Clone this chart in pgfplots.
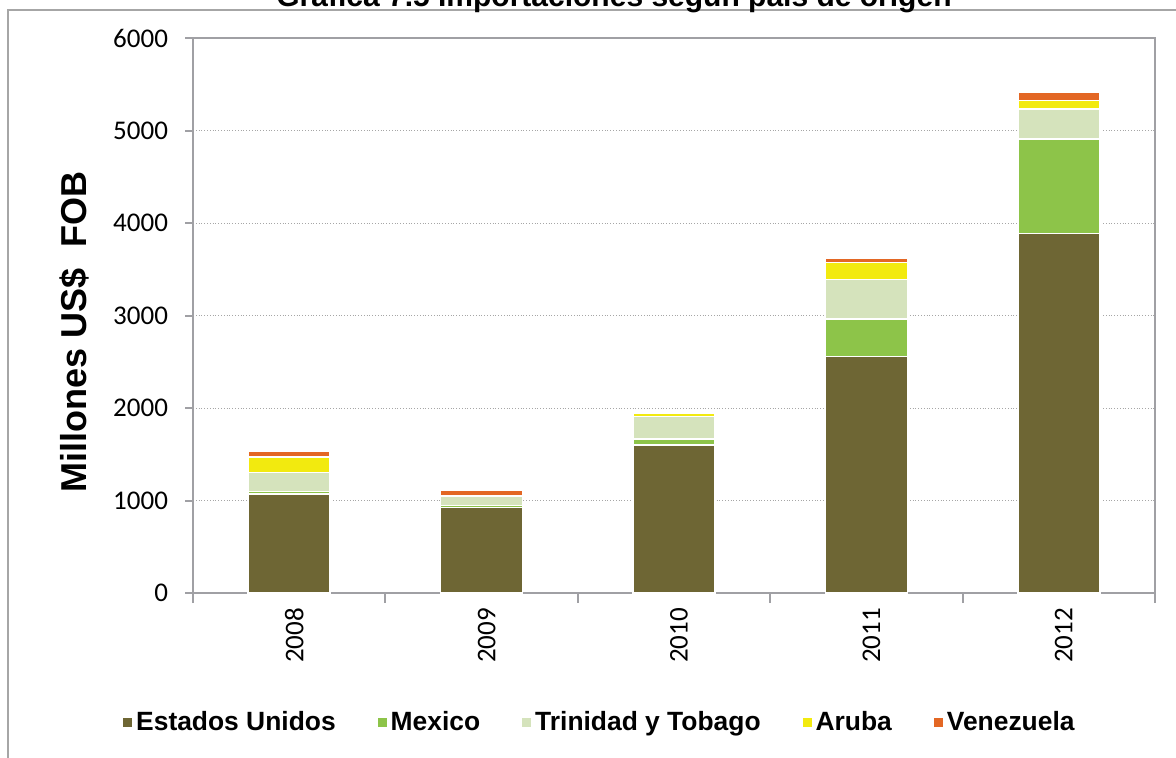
\documentclass[border=0pt]{standalone}
\usepackage{pgfplots}
\usepackage{pgfplotstable}
\pgfplotsset{compat=1.18}
\usepackage{fontspec}
\setmainfont{Liberation Sans}
\newfontfamily\carlito{Carlito}
\definecolor{cUS}{HTML}{6E6634}
\definecolor{cMX}{HTML}{8DC449}
\definecolor{cTT}{HTML}{D5E3BC}
\definecolor{cAR}{HTML}{F2EA0F}
\definecolor{cVE}{HTML}{E36724}
\definecolor{axgray}{HTML}{A0A0A4}
\definecolor{framegray}{HTML}{A6A6A6}

\pgfplotstableread{
x us mx tt ar ve
0 1070 25 210 166 66
1 922 25 97 8 60
2 1600 65 245 30 0
3 2555 410 425 184 47
4 3889 1020 324 92 92
}\datatable

\begin{document}
\begin{tikzpicture}
\draw[framegray, line width=1pt] (4pt,-420pt) -- (4pt,-5pt) -- (620pt,-5pt);
\node[font=\bfseries\fontsize{15}{18}\selectfont, anchor=base] at (307pt,-3pt) {Gráfica 7.5 Importaciones según país de origen};
\node[rotate=90, font=\bfseries\fontsize{18}{21}\selectfont] at (37pt,-166pt) {Millones US\$\ \ FOB};
\begin{axis}[
  at={(96.5pt,-296.5pt)}, anchor=south west,
  scale only axis, width=481pt, height=277.5pt,
  xmin=-0.5, xmax=4.5, ymin=0, ymax=6000,
  ybar stacked, bar width=41pt,
  axis line style={draw=axgray, line width=1pt},
  tick align=outside,
  xtick={0,1,2,3,4}, xticklabels={2008,2009,2010,2011,2012},
  xtick pos=bottom, ytick pos=left,
  major x tick style={draw=none},
  minor xtick={-0.5,0.5,1.5,2.5,3.5,4.5},
  minor tick length=5pt, major tick length=4pt,
  tick style={axgray, line width=1pt},
  ytick={0,1000,2000,3000,4000,5000,6000},
  ymajorgrids,
  major grid style={densely dotted, gray!70, line width=0.5pt},
  scaled y ticks=false,
  /pgf/number format/1000 sep={},
  /pgf/number format/assume math mode=true,
  yticklabel style={font=\carlito\fontsize{13.5}{16}\selectfont, xshift=-5pt},
  xticklabel style={rotate=90, anchor=east, yshift=-2.5pt, font=\carlito\fontsize{13.5}{16}\selectfont},
  legend style={at={(0.424,-0.2324)}, anchor=center, draw=none, fill=none,
    legend columns=-1, font=\bfseries\fontsize{13.2}{15}\selectfont,
    /tikz/every even column/.append style={column sep=19pt}},
  legend image code/.code={\fill[#1,draw=none] (0pt,-2.3pt) rectangle (4.5pt,2.2pt);},
]
\addplot[fill=cUS, draw=white, line width=0.75pt] table[x=x,y=us]{\datatable};
\addplot[fill=cMX, draw=white, line width=0.75pt] table[x=x,y=mx]{\datatable};
\addplot[fill=cTT, draw=white, line width=0.75pt] table[x=x,y=tt]{\datatable};
\addplot[fill=cAR, draw=white, line width=0.75pt] table[x=x,y=ar]{\datatable};
\addplot[fill=cVE, draw=white, line width=0.75pt] table[x=x,y=ve]{\datatable};
\legend{Estados Unidos, Mexico, Trinidad y Tobago, Aruba, Venezuela}
\end{axis}
\pgfresetboundingbox
\useasboundingbox (0,0) rectangle (588pt,-378.5pt);
\end{tikzpicture}
\end{document}
